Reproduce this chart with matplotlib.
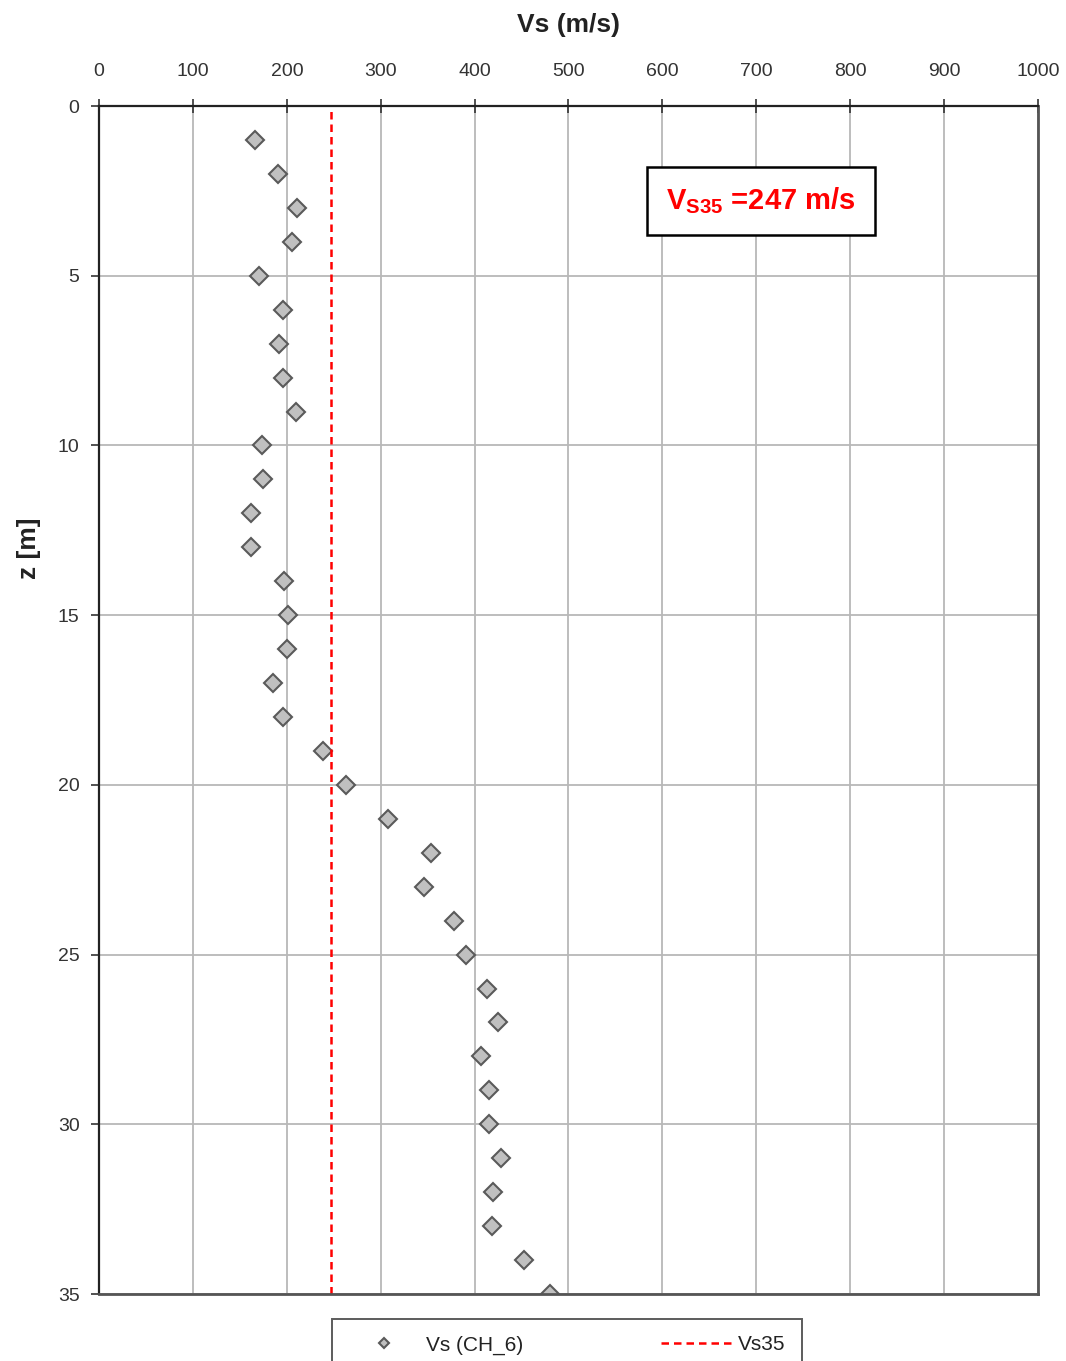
import numpy as np
import matplotlib.pyplot as plt
import matplotlib as mpl

mpl.rcParams['font.family'] = ['Liberation Sans', 'DejaVu Sans']
mpl.rcParams['mathtext.fontset'] = 'custom'
mpl.rcParams['mathtext.rm'] = 'Liberation Sans'
mpl.rcParams['mathtext.bf'] = 'Liberation Sans:bold'

depth = [1, 2, 3, 4, 5, 6, 7, 8, 9, 10, 11, 12, 13, 14, 15, 16, 17, 18,
         19, 20, 21, 22, 23, 24, 25, 26, 27, 28, 29, 30, 31, 32, 33, 34, 35]
vs = [166, 191, 211, 206, 170, 196, 192, 196, 210, 174, 175, 162, 162, 197,
      201, 200, 185, 196, 239, 263, 308, 354, 346, 378, 391, 413, 425, 407,
      415, 415, 428, 420, 419, 453, 480]
vs35 = 247

fig = plt.figure(figsize=(10.66, 13.61), dpi=100)
ax = fig.add_axes([0.0929, 0.0492, 0.8808, 0.8729])

ax.plot(vs, depth, linestyle='none', marker='D', markersize=9.5,
        markerfacecolor='#c0c0c0', markeredgecolor='#5a5a5a',
        markeredgewidth=1.5, label='Vs (CH_6)')
ax.axvline(vs35, color='#ff0000', linestyle=(0, (3, 2)), linewidth=1.8,
           label='Vs35')

ax.set_xlim(0, 1000)
ax.set_ylim(35, 0)
ax.set_xticks(np.arange(0, 1001, 100))
ax.set_yticks(np.arange(0, 36, 5))
ax.xaxis.tick_top()
ax.xaxis.set_label_position('top')
ax.tick_params(axis='x', direction='inout', length=10, width=1.2,
               labelsize=14, colors='#333333', pad=14)
ax.tick_params(axis='y', direction='out', length=6, width=1.2,
               labelsize=14, colors='#333333', pad=8)
ax.grid(True, color='#b8b8b8', linewidth=1.3)
ax.set_axisbelow(True)

for s in ['top', 'left']:
    ax.spines[s].set_color('#222222')
    ax.spines[s].set_linewidth(1.6)
for s in ['right', 'bottom']:
    ax.spines[s].set_color('#555555')
    ax.spines[s].set_linewidth(2.0)

ax.set_xlabel('Vs (m/s)', fontsize=19, fontweight='bold', labelpad=22,
              color='#222222')
ax.set_ylabel('z [m]', fontsize=19, fontweight='bold', color='#222222')
ax.yaxis.set_label_coords(-0.062, 0.628)

ax.text(705, 2.8, r'V$_{\mathbf{S35}}$ =247 m/s', color='#ff0000',
        fontsize=21, fontweight='bold', ha='center', va='center',
        bbox=dict(boxstyle='square,pad=0.65', facecolor='white',
                  edgecolor='black', linewidth=1.8))

leg = fig.legend(loc='upper left', bbox_to_anchor=(0.3114, 0.0, 0.4409, 0.031),
                 mode='expand', ncol=2, fontsize=15, frameon=True,
                 fancybox=False, edgecolor='#333333', markerscale=0.55,
                 handlelength=3.4, columnspacing=3.6, borderpad=0.8,
                 borderaxespad=0.0, handletextpad=0.3)
leg.get_frame().set_linewidth(1.4)
for t in leg.get_texts():
    t.set_color('#222222')

fig.savefig('out.png', dpi=100)
